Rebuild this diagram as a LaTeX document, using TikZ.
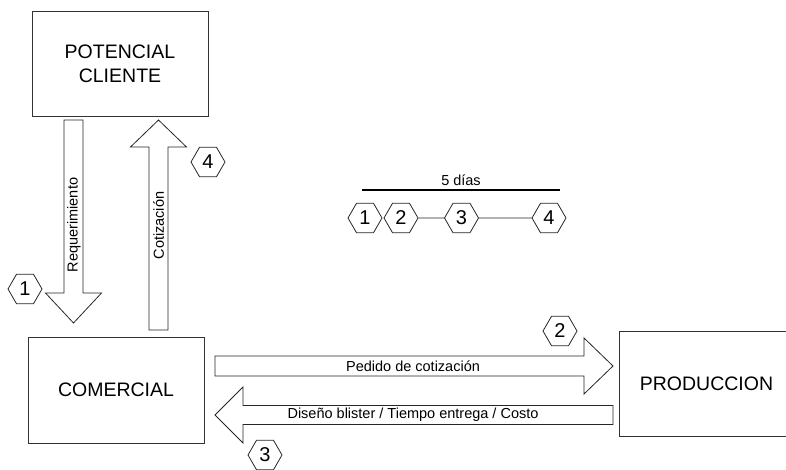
\documentclass[tikz,border=0pt]{standalone}
\usepackage{fontspec}
\setmainfont{Liberation Sans}
\usetikzlibrary{shapes.geometric,calc}
\begin{document}
\begin{tikzpicture}[x=1pt,y=-1pt,
  box/.style={draw=black!80,line width=0.8pt,minimum width=176pt,minimum height=105pt,inner sep=0pt,font=\fontsize{19.5}{24}\selectfont,align=center},
  hexa/.style={draw=black!85,line width=0.8pt,regular polygon,regular polygon sides=6,minimum size=34pt,inner sep=0pt,font=\fontsize{20}{20}\selectfont},
  blk/.style={draw=black!85,line width=0.8pt,fill=white,line join=miter},
  lbl/.style={font=\fontsize{14.5}{14.5}\selectfont,inner sep=0pt},
  tline/.style={draw=black!85,line width=0.8pt}
  ]
\clip (0,0) rectangle (786,470);
% boxes
\node[box] (pc) at (120,63.5) {POTENCIAL\\CLIENTE};
\node[box,minimum height=106pt] (com) at (116,390) {COMERCIAL};
\node[box,minimum width=175pt] (prod) at (706.5,383.5) {PRODUCCION};
% block arrow end points
\coordinate (r1) at (73.5,120);
\coordinate (r2) at (73.5,323);
\coordinate (c1) at (158.5,330);
\coordinate (c2) at (158.5,120);
\coordinate (p1) at (215,366);
\coordinate (p2) at (613,366);
\coordinate (d1) at (613,415);
\coordinate (d2) at (215,415);
% Requerimiento (down)
\draw[blk] ($(r1)+(-9.5,0)$) -- ($(r2)+(-9.5,-30)$) -- ($(r2)+(-28,-30)$) -- (r2) -- ($(r2)+(28,-30)$) -- ($(r2)+(9.5,-30)$) -- ($(r1)+(9.5,0)$) -- cycle;
% Cotizacion (up)
\draw[blk] ($(c1)+(-9.5,0)$) -- ($(c2)+(-9.5,27)$) -- ($(c2)+(-28,27)$) -- (c2) -- ($(c2)+(28,27)$) -- ($(c2)+(9.5,27)$) -- ($(c1)+(9.5,0)$) -- cycle;
% Pedido (right)
\draw[blk] ($(p1)+(0,-10)$) -- ($(p2)+(-29,-10)$) -- ($(p2)+(-29,-28)$) -- (p2) -- ($(p2)+(-29,28)$) -- ($(p2)+(-29,10)$) -- ($(p1)+(0,10)$) -- cycle;
% Diseno (left)
\draw[blk] ($(d1)+(0,-9.5)$) -- ($(d2)+(28,-9.5)$) -- ($(d2)+(28,-28)$) -- (d2) -- ($(d2)+(28,28)$) -- ($(d2)+(28,9.5)$) -- ($(d1)+(0,9.5)$) -- cycle;
% labels
\node[lbl,rotate=90] (lreq) at (74,225) {Requerimiento};
\node[lbl,rotate=90] (lcot) at (158.5,225.5) {Cotización};
\node[lbl] (lped) at (413,366) {Pedido de cotización};
\node[lbl] (ldis) at (413,415) {Diseño blister / Tiempo entrega / Costo};
% step hexagons
\node[hexa] (h1) at (25,289) {1};
\node[hexa] (h4) at (208,162) {4};
\node[hexa] (h2) at (560,331) {2};
\node[hexa] (h3) at (265,455) {3};
% timeline
\coordinate (la) at (362,190);
\coordinate (lb) at (560,190);
\draw[line width=1.2pt] (la) -- (lb);
\node[lbl,anchor=base] (days) at (461,186) {5 días};
\node[hexa] (t1) at (365,218) {1};
\node[hexa] (t2) at (401,218) {2};
\node[hexa] (t3) at (461.5,218) {3};
\node[hexa] (t4) at (549,218) {4};
\draw[tline] (t2.east) -- (t3.west);
\draw[tline] (t3.east) -- (t4.west);
\end{tikzpicture}
\end{document}
